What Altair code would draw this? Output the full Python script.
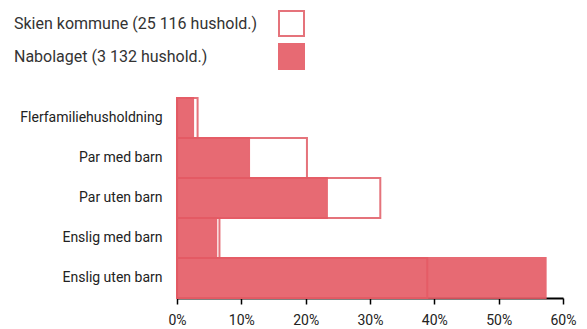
import altair as alt
import pandas as pd

categories = ["Flerfamiliehusholdning", "Par med barn", "Par uten barn",
              "Enslig med barn", "Enslig uten barn"]
series = ["Skien kommune (25 116 hushold.)", "Nabolaget (3 132 hushold.)"]
skien = [3.2, 20.2, 31.6, 6.6, 38.9]
nabolaget = [2.5, 11.2, 23.3, 6.1, 57.3]
x_ticks = [0, 10, 20, 30, 40, 50, 60]

rows = []
for c, v in zip(categories, skien):
    rows.append({"kategori": c, "serie": series[0], "andel": v})
for c, v in zip(categories, nabolaget):
    rows.append({"kategori": c, "serie": series[1], "andel": v})
df = pd.DataFrame(rows)

FONT = "Roboto"

chart = alt.Chart(df).mark_bar(
    opacity=0.9, strokeWidth=2
).encode(
    y=alt.Y("kategori:N", sort=categories,
            scale=alt.Scale(paddingInner=0, paddingOuter=0),
            axis=alt.Axis(title=None, ticks=False, labelPadding=15,
                          labelFontSize=14, labelColor="#222",
                          domainColor="#000", domainWidth=2,
                          labelFont=FONT)),
    x=alt.X("andel:Q", stack=None,
            scale=alt.Scale(domain=[0, 60], nice=False),
            axis=alt.Axis(title=None, values=x_ticks, grid=False,
                          labelExpr="datum.value + '%'", labelFlush=False,
                          tickColor="#000", tickWidth=1.5, tickSize=6,
                          domainColor="#000", domainWidth=2,
                          labelFontSize=14, labelColor="#222",
                          labelPadding=9, labelFont=FONT)),
    fill=alt.Fill("serie:N", sort=series,
                  scale=alt.Scale(domain=series, range=["#ffffff", "#e55a64"]),
                  legend=alt.Legend(title=None, orient="none",
                                    legendX=101, legendY=-88,
                                    symbolType="square", symbolSize=625,
                                    symbolStrokeWidth=2, rowPadding=0,
                                    labelAlign="left", labelOffset={"expr": "-291"},
                                    labelFontSize=16, labelColor="#333",
                                    labelFont=FONT, labelLimit=400,
                                    symbolOpacity=0.9)),
    stroke=alt.Stroke("serie:N", sort=series,
                      scale=alt.Scale(domain=series, range=["#e3646d", "#e55a64"]),
                      legend=None),
    order=alt.Order("order_idx:Q"),
).transform_calculate(
    order_idx="datum.serie == '%s' ? 0 : 1" % series[0]
).properties(
    width=386, height=200,
    padding={"left": 177, "top": 98, "right": 24, "bottom": 31},
    autosize=alt.AutoSizeParams(type="none"),
).configure_view(stroke=None)

chart.save("out.html", embed_options={"renderer": "svg", "actions": False})
